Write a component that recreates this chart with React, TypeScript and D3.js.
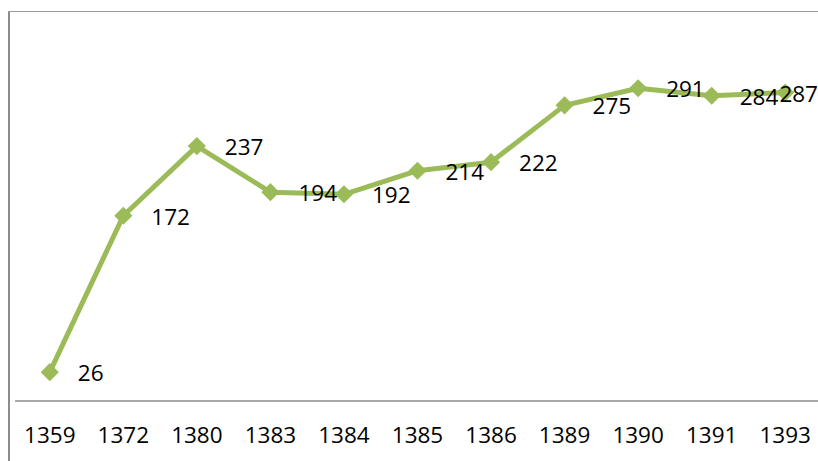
import React, { useEffect, useRef } from 'react';
import * as d3 from 'd3';

const years = ['1359', '1372', '1380', '1383', '1384', '1385', '1386', '1389', '1390', '1391', '1393'];
const values = [26, 172, 237, 194, 192, 214, 222, 275, 291, 284, 287];

const width = 818;
const height = 461;

function App() {
  const svgRef = useRef<SVGSVGElement>(null);

  useEffect(() => {
    const svg = d3.select(svgRef.current);
    svg.selectAll('*').remove();

    const x = d3.scaleBand<string>()
      .domain(years)
      .range([13, 822]);

    const y = d3.scaleLinear()
      .domain([0, 350])
      .range([400, 25]);

    const cx = (d: string) => (x(d) as number) + x.bandwidth() / 2;

    // chart frame (cropped)
    svg.append('line')
      .attr('x1', 9).attr('x2', 9).attr('y1', 11).attr('y2', height)
      .attr('stroke', '#8c8c8c').attr('stroke-width', 2);
    svg.append('line')
      .attr('x1', 8).attr('x2', width).attr('y1', 11.5).attr('y2', 11.5)
      .attr('stroke', '#9a9a9a').attr('stroke-width', 1.2);

    // category axis
    svg.append('line')
      .attr('x1', 15).attr('x2', width).attr('y1', y(0) + 1).attr('y2', y(0) + 1)
      .attr('stroke', '#8c8c8c').attr('stroke-width', 1.5);

    svg.append('g')
      .selectAll('text')
      .data(years)
      .join('text')
      .attr('x', d => cx(d))
      .attr('y', 443)
      .attr('text-anchor', 'middle')
      .attr('font-family', 'Open Sans, sans-serif')
      .attr('font-size', 22.5)
      .attr('fill', '#000')
      .text(d => d);

    const pts = years.map((yr, i) => ({ yr, v: values[i] }));

    svg.append('path')
      .datum(pts)
      .attr('fill', 'none')
      .attr('stroke', '#9bbb59')
      .attr('stroke-width', 5)
      .attr('stroke-linejoin', 'round')
      .attr('d', d3.line<{ yr: string; v: number }>()
        .x(d => cx(d.yr))
        .y(d => y(d.v)));

    svg.append('g')
      .selectAll('path')
      .data(pts)
      .join('path')
      .attr('transform', d => `translate(${cx(d.yr)},${y(d.v)}) rotate(45)`)
      .attr('d', d3.symbol(d3.symbolSquare, 165)())
      .attr('fill', '#9bbb59');

    const labels = svg.append('g')
      .selectAll('text')
      .data(pts)
      .join('text')
      .attr('x', d => cx(d.yr) + 28)
      .attr('y', d => y(d.v) + 9)
      .attr('font-family', 'Open Sans, sans-serif')
      .attr('font-size', 22.5)
      .attr('fill', '#000')
      .text(d => String(d.v));

    // keep labels inside the chart area
    labels.each(function () {
      const el = this as SVGTextElement;
      const w = el.getComputedTextLength();
      const lx = +el.getAttribute('x')!;
      if (lx + w > width) el.setAttribute('x', String(width - w));
    });
  }, []);

  return (
    <svg
      ref={svgRef}
      width={width}
      height={height}
      style={{ position: 'absolute', left: 0, top: 0, background: '#fff' }}
    />
  );
}

export default App;
